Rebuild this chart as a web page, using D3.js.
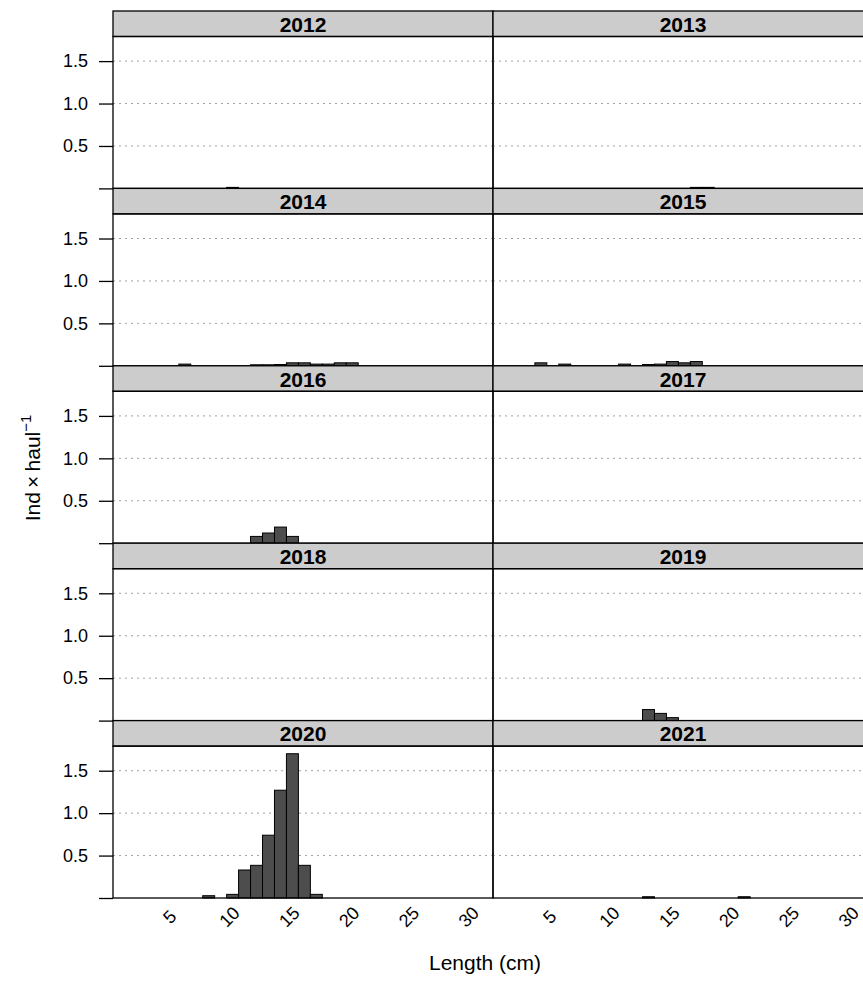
<!DOCTYPE html>
<meta charset="utf-8">
<head>
  <style>
    body {margin: 0; background-color: #ffffff;}
    text {font-family: "Liberation Sans", Arial, sans-serif;}
  </style>
  <title></title>
</head>
<body>
<script src="https://d3js.org/d3.v7.min.js"></script>
<script>

// panels, left to right then top to bottom
const years = [2012, 2013, 2014, 2015, 2016, 2017, 2018, 2019, 2020, 2021];

// [length (cm), Ind x haul^-1]
const hist2012 = [[10, 0.012]];
const hist2013 = [[17, 0.012], [18, 0.012]];
const hist2014 = [[6, 0.02], [12, 0.012], [13, 0.012], [14, 0.015], [15, 0.035], [16, 0.035],
                  [17, 0.02], [18, 0.02], [19, 0.035], [20, 0.035]];
const hist2015 = [[4, 0.035], [6, 0.02], [11, 0.02], [13, 0.015], [14, 0.02], [15, 0.05],
                  [16, 0.035], [17, 0.05]];
const hist2016 = [[12, 0.08], [13, 0.12], [14, 0.19], [15, 0.08]];
const hist2017 = [];
const hist2018 = [];
const hist2019 = [[13, 0.13], [14, 0.085], [15, 0.035]];
const hist2020 = [[8, 0.027], [10, 0.043], [11, 0.33], [12, 0.385], [13, 0.74], [14, 1.27],
                  [15, 1.70], [16, 0.385], [17, 0.043]];
const hist2021 = [[13, 0.015], [21, 0.015]];

const histByYear = {2012: hist2012, 2013: hist2013, 2014: hist2014, 2015: hist2015, 2016: hist2016,
                    2017: hist2017, 2018: hist2018, 2019: hist2019, 2020: hist2020, 2021: hist2021};

const yTicks = [0.5, 1.0, 1.5];
const xTicks = [5, 10, 15, 20, 25, 30];

const W = 863, H = 990;
const offX = 113, offY = 11;
const colW = 380, rowH = 177.4, stripH = 25.5;
const panelH = rowH - stripH;

var svg = d3.select("body")
  .append("svg")
    .attr("width", W)
    .attr("height", H);

var x = d3.scaleLinear().domain([0, 31.77]).range([0, colW]);
var y = d3.scaleLinear().domain([0, 1.79]).range([panelH, 0]);

years.forEach(function(yr, i) {
  var col = i % 2, row = Math.floor(i / 2);
  var g = svg.append("g")
    .attr("transform", "translate(" + (offX + col*colW) + "," + (offY + row*rowH) + ")");

  // strip
  g.append("rect")
    .attr("x", 0).attr("y", 0)
    .attr("width", colW).attr("height", stripH)
    .attr("fill", "#cccccc")
    .attr("stroke", "#000").attr("stroke-width", 1.3);
  g.append("text")
    .attr("x", colW/2).attr("y", stripH/2 + 8)
    .attr("text-anchor", "middle")
    .style("font-weight", "bold")
    .style("font-size", "21px")
    .text(yr);

  var p = g.append("g").attr("transform", "translate(0," + stripH + ")");

  // dotted reference lines
  p.selectAll("line.grid")
    .data(yTicks)
    .enter().append("line")
      .attr("class", "grid")
      .attr("x1", 0).attr("x2", colW)
      .attr("y1", d => y(d)).attr("y2", d => y(d))
      .attr("stroke", "#a0a0a0")
      .attr("stroke-width", 1)
      .attr("stroke-dasharray", "2,4");

  p.selectAll("rect.bar")
    .data(histByYear[yr])
    .enter().append("rect")
      .attr("class", "bar")
      .attr("x", d => x(d[0] - 0.5))
      .attr("width", x(1) - x(0))
      .attr("y", d => y(d[1]))
      .attr("height", d => y(0) - y(d[1]))
      .attr("fill", "#4d4d4d")
      .attr("stroke", "#000")
      .attr("stroke-width", 1);

  // panel frame
  p.append("rect")
    .attr("x", 0).attr("y", 0)
    .attr("width", colW).attr("height", panelH)
    .attr("fill", "none")
    .attr("stroke", "#000").attr("stroke-width", 1.3);

  if (col == 0) {
    var yAxis = d3.axisLeft(y)
      .tickValues([0].concat(yTicks))
      .tickSize(14)
      .tickPadding(11)
      .tickFormat(d => d == 0 ? "" : d3.format(".1f")(d));
    var ya = p.append("g").call(yAxis);
    ya.select(".domain").remove();
    ya.selectAll(".tick line").attr("stroke", "#000").attr("stroke-width", 1.3);
    ya.selectAll(".tick text")
      .attr("fill", "#000")
      .style("font-size", "18px")
      .style("font-family", "'Liberation Sans', Arial, sans-serif");
  }

  if (row == 4) {
    p.selectAll("text.xlab")
      .data(xTicks)
      .enter().append("text")
        .attr("class", "xlab")
        .attr("transform", d => "translate(" + (x(d) - 3) + "," + (panelH + 19) + ") rotate(-45)")
        .attr("text-anchor", "middle")
        .attr("dominant-baseline", "central")
        .style("font-size", "18px")
        .text(d => d);
  }
});

// axis titles
svg.append("text")
  .attr("x", 485).attr("y", 970)
  .attr("text-anchor", "middle")
  .style("font-size", "21px")
  .text("Length (cm)");

var yt = svg.append("text")
  .attr("transform", "translate(40,468) rotate(-90)")
  .attr("text-anchor", "middle")
  .style("font-size", "21px");
yt.append("tspan").text("Ind\u2009\u00d7\u2009haul");
yt.append("tspan")
  .attr("dy", -9)
  .style("font-size", "15px")
  .text("\u22121");

</script>
</body>
</html>
